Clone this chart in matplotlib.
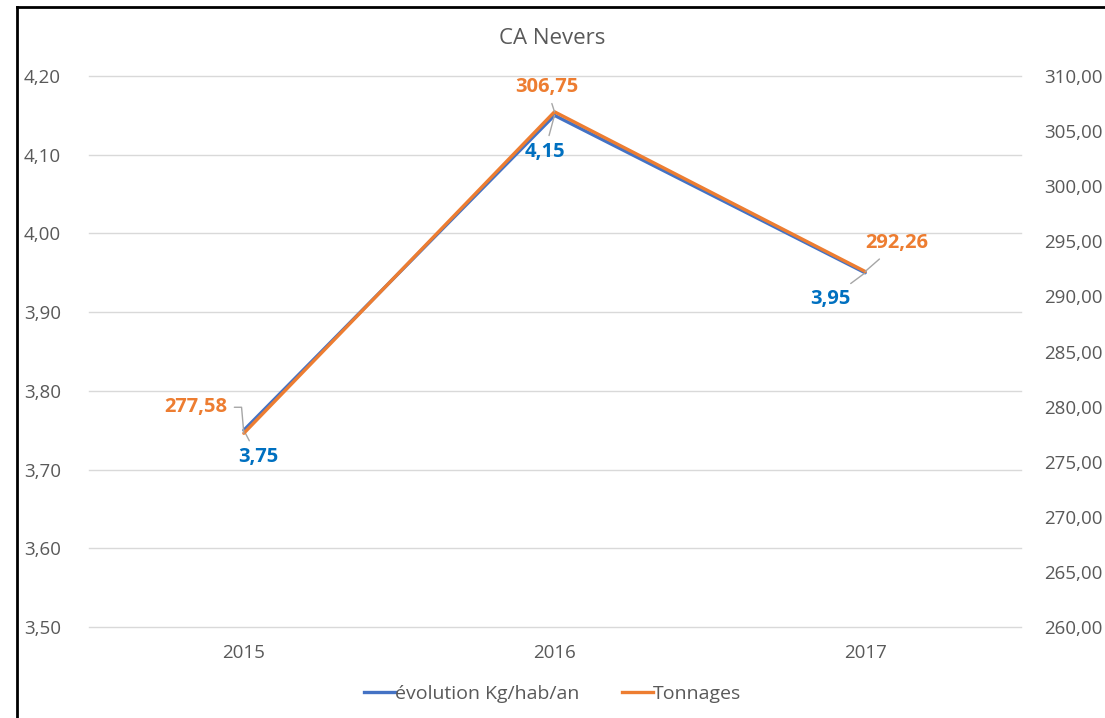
import matplotlib.pyplot as plt
from matplotlib.lines import Line2D
from matplotlib.ticker import FuncFormatter
import numpy as np

plt.rcParams['font.family'] = ['Open Sans', 'DejaVu Sans']

years = ["2015", "2016", "2017"]
kg_hab_an = [3.75, 4.15, 3.95]
tonnages = [277.58, 306.75, 292.26]

BLUE = "#4472C4"
ORANGE = "#ED7D31"
BLUE_LBL = "#0070C0"
GRAY_TXT = "#595959"

W, H = 1105, 718
fig = plt.figure(figsize=(W / 100, H / 100), dpi=100)
ax = fig.add_axes([88.5 / W, 1 - 627 / H, (1020.5 - 88.5) / W, (627 - 76) / H])
ax2 = ax.twinx()

x = np.arange(len(years))

ax.plot(x, kg_hab_an, color=BLUE, lw=2.4, solid_capstyle='round', zorder=3)
ax2.plot(x, tonnages, color=ORANGE, lw=2.4, solid_capstyle='round', zorder=3)

ax.set_xlim(-0.5, 2.5)
ax.set_ylim(3.5, 4.2)
ax.set_yticks(np.arange(3.5, 4.21, 0.1))
ax2.set_ylim(260, 310)
ax2.set_yticks(np.arange(260, 310.1, 5))

comma = lambda fmt: FuncFormatter(lambda v, p: fmt.format(v).replace('.', ','))
ax.yaxis.set_major_formatter(comma("{:.2f}"))
ax2.yaxis.set_major_formatter(comma("{:.2f}"))

ax.set_xticks(x)
ax.set_xticklabels(years)
ax.grid(axis='y', color='#D9D9D9', lw=1)
ax.set_axisbelow(True)
for gl in ax.get_ygridlines():
    gl.set_clip_on(False)

for a in (ax, ax2):
    for s in a.spines.values():
        s.set_visible(False)
    a.tick_params(length=0, labelsize=13.5, colors=GRAY_TXT)
ax.tick_params(axis='y', pad=20)
ax2.tick_params(axis='y', pad=17)
ax.tick_params(axis='x', pad=12)

# data labels with leader lines (offsets in pixels)
def put_label(a, xi, yi, off, color, conn):
    a.annotate(f"{yi:.2f}".replace('.', ','), (xi, yi), xytext=off,
               textcoords='offset pixels', fontsize=14.5, fontweight='bold',
               ha='center', va='center', color=color, zorder=5,
               arrowprops=dict(arrowstyle='-', color='#A6A6A6', lw=1,
                               shrinkA=3, shrinkB=0, connectionstyle=conn))

blue_offsets = [(14, -27), (-10, -37), (-35, -26)]
orange_offsets = [(-48, 26), (-8, 25), (32, 28)]
orange_conn = ["angle,angleA=0,angleB=95,rad=0", "arc3", "arc3"]

for i in range(len(years)):
    put_label(ax, x[i], kg_hab_an[i], blue_offsets[i], BLUE_LBL, "arc3")
    put_label(ax2, x[i], tonnages[i], orange_offsets[i], ORANGE, orange_conn[i])

fig.text(0.5, 1 - 38 / H, "CA Nevers", ha='center', va='center', fontsize=16, color=GRAY_TXT)

handles = [Line2D([], [], color=BLUE, lw=2.4), Line2D([], [], color=ORANGE, lw=2.4)]
fig.legend(handles, ["évolution Kg/hab/an", "Tonnages"], loc='center',
           bbox_to_anchor=(0.5, 1 - 694 / H), ncol=2, frameon=False, fontsize=14,
           labelcolor=GRAY_TXT, handlelength=1.6, handletextpad=0.0, columnspacing=2.2)

# outer frame (left and top edges only visible)
fig.add_artist(Line2D([17 / W, 17 / W], [0, 1 - 7 / H], color='black', lw=2))
fig.add_artist(Line2D([17 / W, 1], [1 - 7 / H, 1 - 7 / H], color='black', lw=2))

fig.savefig("out.png", dpi=100)
